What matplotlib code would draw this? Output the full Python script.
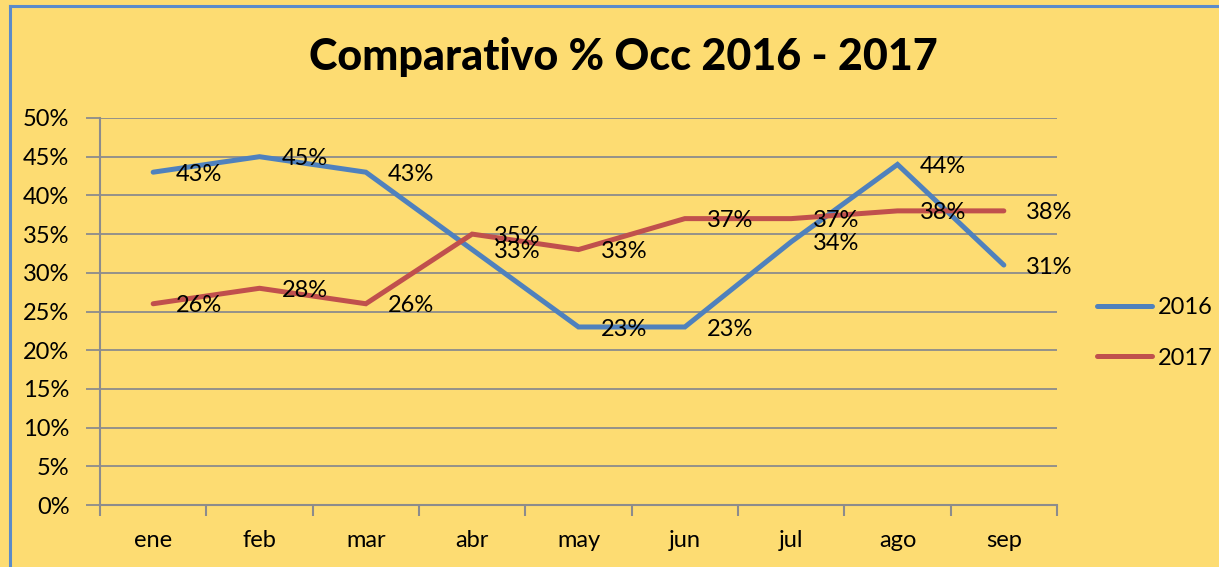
import matplotlib
matplotlib.use('Agg')
import matplotlib.pyplot as plt
from matplotlib.lines import Line2D
from matplotlib.ticker import FixedLocator, PercentFormatter

plt.rcParams['font.family'] = ['Lato', 'DejaVu Sans']

# datos
meses = ['ene', 'feb', 'mar', 'abr', 'may', 'jun', 'jul', 'ago', 'sep']
occ_2016 = [0.43, 0.45, 0.43, 0.33, 0.23, 0.23, 0.34, 0.44, 0.31]
occ_2017 = [0.26, 0.28, 0.26, 0.35, 0.33, 0.37, 0.37, 0.38, 0.38]
series = {'2016': occ_2016, '2017': occ_2017}
colores = {'2016': '#4F81BD', '2017': '#C0504D'}

bg = '#FDDC72'
W, H = 1219, 567
fs = 17
fig = plt.figure(figsize=(W / 100, H / 100), dpi=100, facecolor=bg)

# marco azul (solo se ven el borde superior y el izquierdo)
borde = '#5B8BC9'
fig.add_artist(Line2D([10 / W, 1.05], [(H - 6) / H] * 2, transform=fig.transFigure,
                      color=borde, lw=2.2))
fig.add_artist(Line2D([10 / W] * 2, [-0.05, (H - 6) / H], transform=fig.transFigure,
                      color=borde, lw=2.2))

ax = fig.add_axes([100 / W, (H - 505) / H, 957 / W, 387 / H])
ax.set_facecolor(bg)

x = list(range(len(meses)))
for nombre, vals in series.items():
    ax.plot(x, vals, color=colores[nombre], lw=3.6, solid_capstyle='round',
            solid_joinstyle='miter', label=nombre, zorder=3)
    for xi, v in zip(x, vals):
        ax.annotate(f'{round(v * 100):.0f}%', (xi, v), xytext=(16, -1.5),
                    textcoords='offset points', ha='left', va='center',
                    fontsize=fs, color='black', zorder=4)

ax.set_xlim(-0.5, len(meses) - 0.5)
ax.set_ylim(0, 0.5)
ax.yaxis.set_major_locator(FixedLocator([i * 0.05 for i in range(11)]))
ax.yaxis.set_major_formatter(PercentFormatter(1.0, decimals=0))
ax.grid(axis='y', color='#8C8C8C', lw=1.3, zorder=1)
ax.set_axisbelow(True)

ax.set_xticks(x)
ax.set_xticklabels(meses)
ax.set_xticks([i - 0.5 for i in range(len(meses) + 1)], minor=True)
ax.tick_params(axis='x', which='major', length=0, pad=18, labelsize=fs)
ax.tick_params(axis='x', which='minor', length=8, width=1.5, color='#8C8C8C', direction='out')
ax.tick_params(axis='y', length=10, width=1.3, color='#8C8C8C', pad=12, labelsize=fs)

for s in ['top', 'right']:
    ax.spines[s].set_visible(False)
for s in ['left', 'bottom']:
    ax.spines[s].set_color('#8C8C8C')
    ax.spines[s].set_linewidth(1.5)

ax.legend(loc='center left', bbox_to_anchor=(1.02, 0.445), frameon=False,
          fontsize=fs, handlelength=2.3, handletextpad=0.25, labelspacing=1.25)

fig.text(0.511, (H - 57) / H, 'Comparativo % Occ 2016 - 2017', ha='center', va='center',
         fontsize=31, fontweight='black')

fig.savefig('out.png', dpi=100, facecolor=bg)
